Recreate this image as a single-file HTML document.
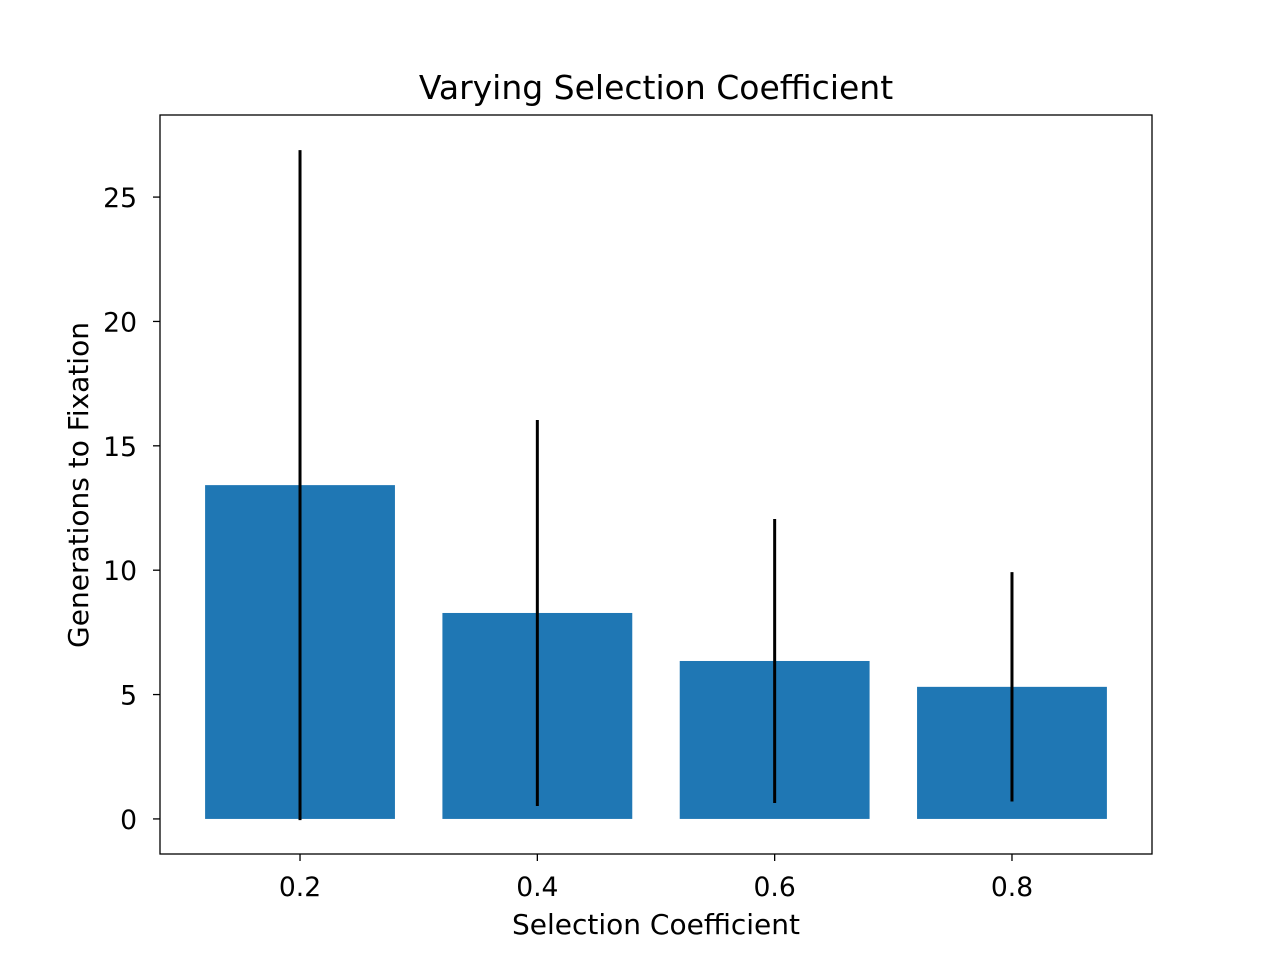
<!DOCTYPE html>
<html><head><meta charset="utf-8"><style>
body{margin:0;background:#fff;}
svg text{font-family:"DejaVu Sans","Liberation Sans",sans-serif;fill:#000;}
</style></head><body>
<svg id="chart" width="1280" height="960" xmlns="http://www.w3.org/2000/svg">
<rect width="1280" height="960" fill="#fff"/>
<text x="656" y="99" font-size="33" text-anchor="middle">Varying Selection Coefficient</text>
<text x="656" y="934" font-size="28" text-anchor="middle">Selection Coefficient</text>
<text transform="translate(88,485) rotate(-90)" font-size="28" text-anchor="middle">Generations to Fixation</text>
<g id="plot"></g>
</svg>
<script>
const categories=[0.2,0.4,0.6,0.8];
const means=[13.42,8.28,6.35,5.31];
const errors=[13.47,7.76,5.71,4.61];
const yTicks=[0,5,10,15,20,25];
const xTickLabels=["0.2","0.4","0.6","0.8"];
const barWidth=0.16;
const X0=160,X1=1152,Y0=115,Y1=854;
const xMin=0.082,xMax=0.918,yMin=-1.41,yMax=28.3;
const xs=v=>X0+(v-xMin)/(xMax-xMin)*(X1-X0);
const ys=v=>Y1-(v-yMin)/(yMax-yMin)*(Y1-Y0);
const NS="http://www.w3.org/2000/svg";
const g=document.getElementById('plot');
function mk(t,a){const e=document.createElementNS(NS,t);for(const k in a)e.setAttribute(k,a[k]);g.appendChild(e);return e;}
categories.forEach((c,i)=>{
  const b=mk('rect',{x:xs(c-barWidth/2),y:ys(means[i]),width:xs(c+barWidth/2)-xs(c-barWidth/2),height:ys(0)-ys(means[i]),fill:'#1f77b4'});
  
  
});
categories.forEach((c,i)=>{
  const l=mk('line',{x1:xs(c),x2:xs(c),y1:ys(means[i]-errors[i]),y2:ys(means[i]+errors[i]),stroke:'#000','stroke-width':3});
  
  
});
const fr=mk('rect',{x:X0,y:Y0,width:X1-X0,height:Y1-Y0,fill:'none',stroke:'#000','stroke-width':1.3});


yTicks.forEach(t=>{
  const y=ys(t);
  const tk=mk('line',{x1:X0-7,x2:X0,y1:y,y2:y,stroke:'#000','stroke-width':1.3});
  
  
  const tx=mk('text',{x:X0-23,y:y+10,'font-size':26.6,'text-anchor':'end'});
  tx.textContent=t;
  
  
});
categories.forEach((c,i)=>{
  const x=xs(c);
  const tk=mk('line',{x1:x,x2:x,y1:Y1,y2:Y1+7,stroke:'#000','stroke-width':1.3});
  
  
  const tx=mk('text',{x:x,y:Y1+42,'font-size':26.6,'text-anchor':'middle'});
  tx.textContent=xTickLabels[i];
  
  
});
</script>
</body></html>
